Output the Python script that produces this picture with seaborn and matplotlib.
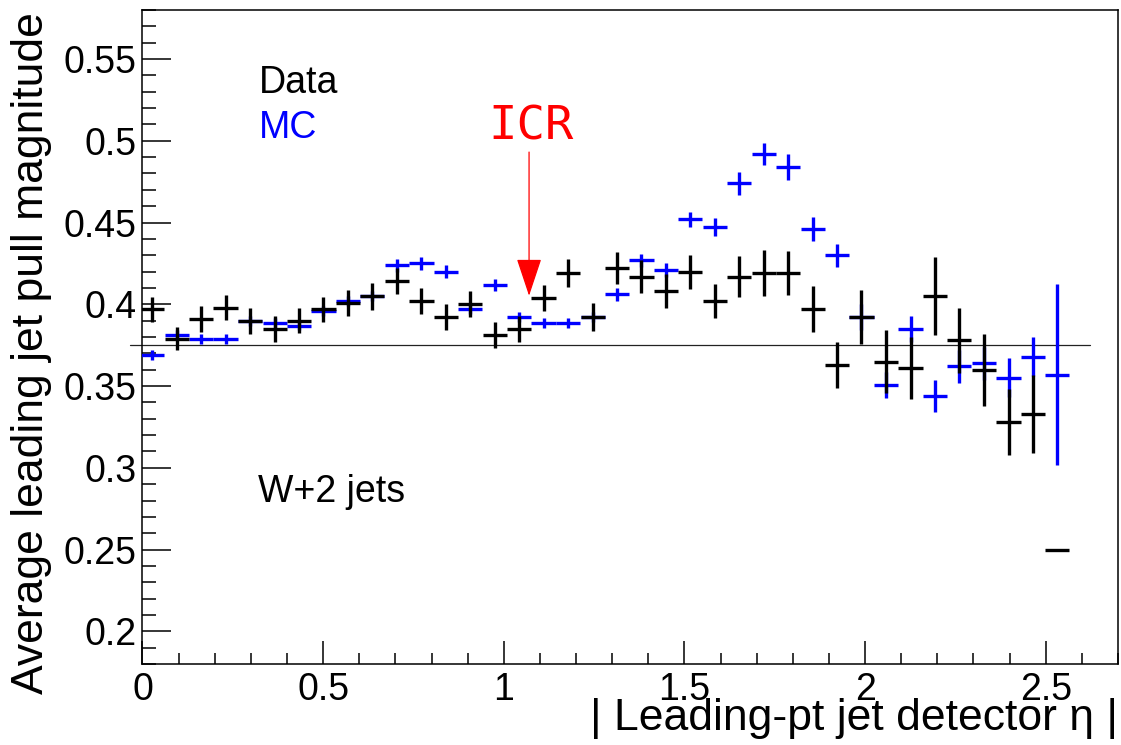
import numpy as np
import pandas as pd
import matplotlib
matplotlib.use("Agg")
import matplotlib.pyplot as plt
from matplotlib.ticker import MultipleLocator, FuncFormatter
import seaborn as sns

# ---- data ----
eta = [0.027, 0.095, 0.162, 0.230, 0.298, 0.366, 0.433, 0.501, 0.569, 0.636,
       0.704, 0.772, 0.839, 0.907, 0.975, 1.043, 1.110, 1.178, 1.246, 1.313,
       1.381, 1.449, 1.516, 1.584, 1.652, 1.720, 1.787, 1.855, 1.923, 1.990,
       2.058, 2.126, 2.193, 2.261, 2.329, 2.397, 2.464, 2.532]
data_pull = [0.397, 0.379, 0.391, 0.398, 0.390, 0.385, 0.390, 0.397, 0.401, 0.405,
             0.414, 0.402, 0.392, 0.400, 0.381, 0.385, 0.404, 0.419, 0.392, 0.422,
             0.417, 0.408, 0.420, 0.402, 0.417, 0.419, 0.419, 0.397, 0.363, 0.392,
             0.365, 0.361, 0.405, 0.378, 0.360, 0.328, 0.333, 0.250]
data_err = [0.0077, 0.0072, 0.0077, 0.0077, 0.0079, 0.0079, 0.0077, 0.0077, 0.0079, 0.0082,
            0.0079, 0.0080, 0.0080, 0.0080, 0.0079, 0.0079, 0.0080, 0.0085, 0.0085, 0.0097,
            0.0098, 0.0104, 0.0104, 0.0105, 0.0125, 0.0140, 0.0135, 0.0140, 0.0140, 0.0165,
            0.0190, 0.0190, 0.0240, 0.0200, 0.0220, 0.0200, 0.0240, 0.0]
mc_pull = [0.369, 0.381, 0.379, 0.379, 0.390, 0.3885, 0.387, 0.396, 0.402, 0.405,
           0.424, 0.425, 0.420, 0.397, 0.412, 0.392, 0.3885, 0.3885, 0.392, 0.406,
           0.427, 0.421, 0.452, 0.447, 0.474, 0.492, 0.484, 0.446, 0.430, 0.392,
           0.3505, 0.385, 0.344, 0.362, 0.364, 0.355, 0.368, 0.357]
mc_err = [0.003, 0.003, 0.003, 0.003, 0.003, 0.003, 0.003, 0.003, 0.003, 0.003,
          0.004, 0.004, 0.004, 0.003, 0.0036, 0.003, 0.003, 0.003, 0.003, 0.004,
          0.004, 0.004, 0.0046, 0.0055, 0.007, 0.0066, 0.0077, 0.0075, 0.007, 0.008,
          0.008, 0.008, 0.0098, 0.010, 0.010, 0.012, 0.012, 0.0555]
half_bin = 0.0335
reference_level = 0.375

df = pd.DataFrame({"eta": eta, "data": data_pull, "data_err": data_err,
                   "mc": mc_pull, "mc_err": mc_err})

# ---- style ----
sns.set_theme(style="white")
plt.rcParams['font.family'] = ['Liberation Sans', 'DejaVu Sans']
plt.rcParams['axes.linewidth'] = 1.1
plt.rcParams['text.color'] = 'black'
plt.rcParams['axes.labelcolor'] = 'black'
plt.rcParams['xtick.color'] = 'black'
plt.rcParams['ytick.color'] = 'black'

fig = plt.figure(figsize=(11.21, 7.45), dpi=100)
ax = fig.add_axes([0.1271, 0.1087, 0.8702, 0.8779])

# MC (blue) drawn first, data (black) on top
ax.errorbar(df["eta"], df["mc"], xerr=half_bin, yerr=df["mc_err"], fmt="none",
            ecolor="#0000ff", elinewidth=2.4, capsize=0, zorder=3)
ax.errorbar(df["eta"], df["data"], xerr=half_bin, yerr=df["data_err"], fmt="none",
            ecolor="black", elinewidth=2.4, capsize=0, zorder=4)

# reference line (extends slightly past the frame on the left)
ax.plot([-0.035, 2.622], [reference_level, reference_level], color="#222222",
        lw=0.9, clip_on=False, zorder=2)

ax.set_xlim(0, 2.7)
ax.set_ylim(0.18, 0.58)

ax.xaxis.set_major_locator(MultipleLocator(0.5))
ax.xaxis.set_minor_locator(MultipleLocator(0.1))
ax.yaxis.set_major_locator(MultipleLocator(0.05))
ax.yaxis.set_minor_locator(MultipleLocator(0.01))
fmt = FuncFormatter(lambda v, p: ("%g" % round(v, 3)))
ax.xaxis.set_major_formatter(fmt)
ax.yaxis.set_major_formatter(fmt)

ax.tick_params(axis="both", which="both", direction="in", top=False, right=False,
               left=True, bottom=True, colors="black", width=1.1, labelsize=27)
ax.tick_params(axis="y", which="major", length=21, pad=4)
ax.tick_params(axis="y", which="minor", length=10)
ax.tick_params(axis="x", which="major", length=16.5, pad=6)
ax.tick_params(axis="x", which="minor", length=8.2)
for s in ax.spines.values():
    s.set_visible(True)
    s.set_color("black")

ax.set_xlabel("| Leading-pt jet detector η |", loc="right", fontsize=32, color="black")
ax.set_ylabel("Average leading jet pull magnitude", loc="top", fontsize=32, color="black")
ax.xaxis.set_label_coords(1.0, -0.052)
ax.yaxis.set_label_coords(-0.093, 0.997)

# annotations
ax.text(0.321, 0.529, "Data", color="black", fontsize=27, va="baseline", ha="left")
ax.text(0.321, 0.5015, "MC", color="#0000ff", fontsize=27, va="baseline", ha="left")
ax.text(0.321, 0.279, "W+2 jets", color="black", fontsize=27, va="baseline", ha="left")
ax.text(1.077, 0.5083, "ICR", color="#ff0000", fontsize=34, ha="center", va="center",
        family=["DejaVu Sans Mono", "DejaVu Sans"])
ax.annotate("", xy=(1.07, 0.4052), xytext=(1.07, 0.4931),
            arrowprops=dict(arrowstyle="-|>,head_length=1.2,head_width=0.4",
                            mutation_scale=20, color="#ff0000", lw=0.9,
                            shrinkA=0, shrinkB=0))

fig.savefig("out.png", dpi=100)
